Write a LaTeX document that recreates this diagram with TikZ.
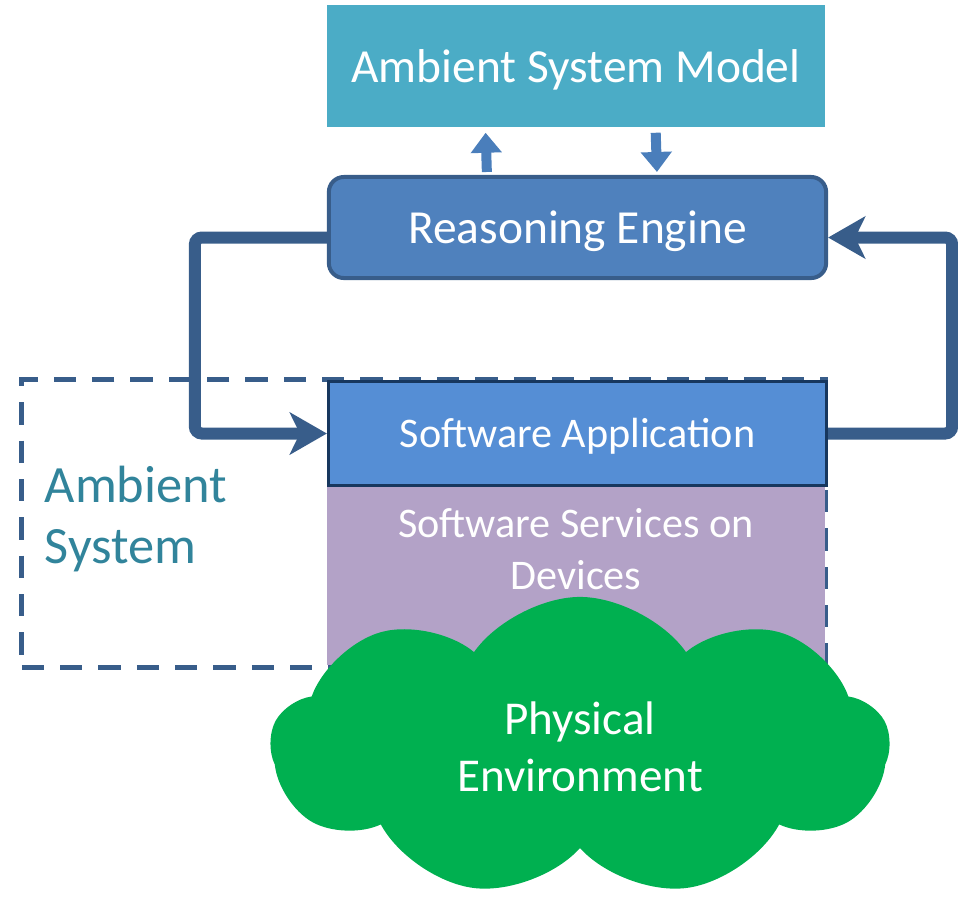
\documentclass[tikz,border=0pt]{standalone}
\usepackage{fontspec}
\setmainfont{Carlito}
\usetikzlibrary{arrows.meta,shapes.symbols}
\definecolor{modelteal}{HTML}{4BACC6}
\definecolor{enginefill}{HTML}{4F81BD}
\definecolor{engineline}{HTML}{385D8A}
\definecolor{appfill}{HTML}{558ED5}
\definecolor{appline}{HTML}{17375E}
\definecolor{servicepurple}{HTML}{B3A2C7}
\definecolor{envgreen}{HTML}{00B050}
\definecolor{linkblue}{HTML}{4A7EBB}
\definecolor{labelteal}{HTML}{31849B}

\tikzset{
  boxtext/.style={text=white, text height=9.3pt, text depth=0pt},
  modelbox/.style={boxtext, fill=modelteal, minimum width=4.98cm, minimum height=1.22cm, inner sep=0pt,
    font=\fontsize{13.5}{16}\selectfont},
  enginebox/.style={boxtext, fill=enginefill, draw=engineline, line width=0.04cm, rounded corners=0.15cm,
    minimum width=4.97cm, minimum height=1.01cm, inner sep=0pt, font=\fontsize{13.5}{16}\selectfont},
  appbox/.style={boxtext, text height=8.2pt, fill=appfill, draw=appline, line width=0.03cm,
    minimum width=4.98cm, minimum height=1.04cm, inner sep=0pt, font=\fontsize{12}{14}\selectfont},
  servicebox/.style={fill=servicepurple, minimum width=4.98cm, minimum height=1.78cm, inner sep=0pt},
  servicetext/.style={text=white, align=center, inner sep=0pt, font=\fontsize{12}{14.8}\selectfont},
  ambientframe/.style={draw=engineline, line width=0.05cm, dash pattern=on 6.3pt off 4.6pt, inner sep=0pt},
  ambienttext/.style={text=labelteal, align=left, inner sep=0pt, font=\fontsize{14.9}{17.6}\selectfont},
  envcloud/.style={cloud, cloud puffs=9, cloud puff arc=110, aspect=2, fill=envgreen,
    minimum width=6.18cm, minimum height=3cm, inner sep=0pt, text=white, align=center,
    font=\fontsize{13.4}{16.2}\selectfont},
  feedback/.style={draw=engineline, line width=0.12cm, rounded corners=2pt,
    -{Stealth[length=0.37cm, width=0.42cm, inset=0.1cm]}},
  linkarrow/.style={draw=linkblue, line width=0.1cm, -{Triangle[length=0.2cm, width=0.3cm]}}
}

\begin{document}
\begin{tikzpicture}[x=0.01cm, y=-0.01cm]
  \useasboundingbox (0,0) rectangle (958,899);

  % ambient system frame
  \node[ambientframe, minimum width=8.03cm, minimum height=2.87cm] (frame) at (423.5,523.5) {};
  \node[ambienttext, anchor=west] (ambientlabel) at (44,519) {Ambient\\System};

  % boxes
  \node[modelbox] (model) at (576,66) {Ambient System Model};
  \node[enginebox] (engine) at (577.5,227.5) {Reasoning Engine};
  \node[servicebox] (services) at (576,576) {};
  \node[servicetext] (servicelabel) at (576,549) {Software Services on\\Devices};
  \node[appbox] (app) at (577.5,433.5) {Software Application};
  \node[envcloud] (env) at (580,747) {Physical\\Environment};

  % model links
  \draw[linkarrow, shorten <=0.03cm, shorten >=0.05cm] ([xshift=-0.905cm]engine.north) -- ([xshift=-0.905cm]model.south);
  \draw[linkarrow, shorten <=0.05cm, shorten >=0.03cm] ([xshift=0.795cm]model.south) -- ([xshift=0.795cm]engine.north);

  % feedback loop
  \draw[feedback] ([yshift=-0.1cm]engine.west) -- ++(-132,0) |- (app.west);
  \draw[feedback] (app.east) -- ++(124,0) |- ([yshift=-0.1cm]engine.east);
\end{tikzpicture}
\end{document}
